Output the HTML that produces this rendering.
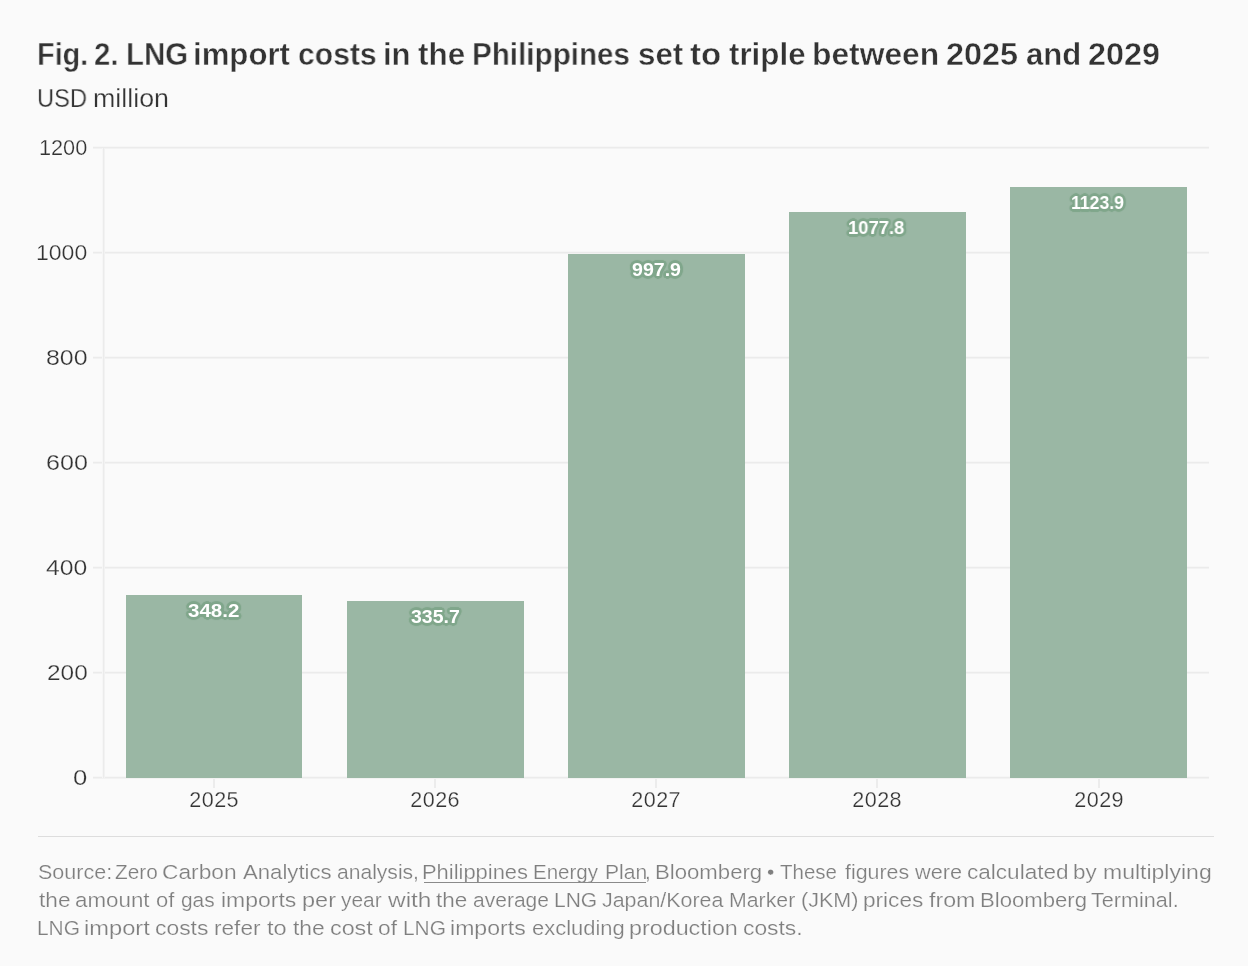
<!DOCTYPE html>
<html><head><meta charset="utf-8"><style>
html,body{margin:0;padding:0;background:#fafafa;}
body{width:1248px;height:966px;position:relative;overflow:hidden;font-family:"Liberation Sans",sans-serif;}
.t{position:absolute;white-space:nowrap;will-change:transform;}
.w{position:absolute;white-space:pre;transform-origin:0 0;will-change:transform;}
.ln{position:absolute;}
.thin{-webkit-text-stroke:0.25px #fafafa;}
.thinf{-webkit-text-stroke:0.2px #fafafa;}
.thinb{-webkit-text-stroke:0.4px #fafafa;}
</style></head><body>

<div class="w thinb" style="left:37.24px;top:38.76px;font-size:31px;line-height:31px;font-weight:bold;color:#333333;transform:scaleX(0.9294)">Fig.</div>
<div class="w thinb" style="left:94.45px;top:38.76px;font-size:31px;line-height:31px;font-weight:bold;color:#333333;transform:scaleX(0.9495)">2.</div>
<div class="w thinb" style="left:125.50px;top:38.76px;font-size:31px;line-height:31px;font-weight:bold;color:#333333;transform:scaleX(0.9496)">LNG</div>
<div class="w thinb" style="left:193.14px;top:38.76px;font-size:31px;line-height:31px;font-weight:bold;color:#333333;transform:scaleX(1.0048)">import</div>
<div class="w thinb" style="left:297.89px;top:38.76px;font-size:31px;line-height:31px;font-weight:bold;color:#333333;transform:scaleX(0.9707)">costs</div>
<div class="w thinb" style="left:383.47px;top:38.76px;font-size:31px;line-height:31px;font-weight:bold;color:#333333;transform:scaleX(0.9915)">in</div>
<div class="w thinb" style="left:418.09px;top:38.76px;font-size:31px;line-height:31px;font-weight:bold;color:#333333;transform:scaleX(1.0156)">the</div>
<div class="w thinb" style="left:472.39px;top:38.76px;font-size:31px;line-height:31px;font-weight:bold;color:#333333;transform:scaleX(0.9556)">Philippines</div>
<div class="w thinb" style="left:637.74px;top:38.76px;font-size:31px;line-height:31px;font-weight:bold;color:#333333;transform:scaleX(1.0104)">set</div>
<div class="w thinb" style="left:690.17px;top:38.76px;font-size:31px;line-height:31px;font-weight:bold;color:#333333;transform:scaleX(1.0655)">to</div>
<div class="w thinb" style="left:728.59px;top:38.76px;font-size:31px;line-height:31px;font-weight:bold;color:#333333;transform:scaleX(1.0101)">triple</div>
<div class="w thinb" style="left:812.15px;top:38.76px;font-size:31px;line-height:31px;font-weight:bold;color:#333333;transform:scaleX(1.0254)">between</div>
<div class="w thinb" style="left:946.06px;top:38.76px;font-size:31px;line-height:31px;font-weight:bold;color:#333333;transform:scaleX(1.0448)">2025</div>
<div class="w thinb" style="left:1025.90px;top:38.76px;font-size:31px;line-height:31px;font-weight:bold;color:#333333;transform:scaleX(1.0019)">and</div>
<div class="w thinb" style="left:1087.66px;top:38.76px;font-size:31px;line-height:31px;font-weight:bold;color:#333333;transform:scaleX(1.0442)">2029</div>
<div class="w thin" style="left:37.11px;top:85.84px;font-size:25px;line-height:25px;color:#333333;transform:scaleX(0.9475)">USD</div>
<div class="w thin" style="left:93.02px;top:85.84px;font-size:25px;line-height:25px;color:#333333;transform:scaleX(1.0726)">million</div>
<div class="ln" style="left:93px;width:1116.2px;top:777.00px;height:1px;background:#ebebeb;box-shadow:0 1px 0 #f2f2f2,0 -1px 0 #f6f6f6"></div>
<div class="w thin" style="left:73.31px;top:766.62px;font-size:21.6px;line-height:21.6px;color:#333333;transform:scaleX(1.1905)">0</div>
<div class="ln" style="left:93px;width:1116.2px;top:672.00px;height:1px;background:#ebebeb;box-shadow:0 1px 0 #f2f2f2,0 -1px 0 #f6f6f6"></div>
<div class="w thin" style="left:46.77px;top:661.62px;font-size:21.6px;line-height:21.6px;color:#333333;transform:scaleX(1.1299)">200</div>
<div class="ln" style="left:93px;width:1116.2px;top:567.00px;height:1px;background:#ebebeb;box-shadow:0 1px 0 #f2f2f2,0 -1px 0 #f6f6f6"></div>
<div class="w thin" style="left:46.23px;top:556.62px;font-size:21.6px;line-height:21.6px;color:#333333;transform:scaleX(1.1453)">400</div>
<div class="ln" style="left:93px;width:1116.2px;top:462.00px;height:1px;background:#ebebeb;box-shadow:0 1px 0 #f2f2f2,0 -1px 0 #f6f6f6"></div>
<div class="w thin" style="left:45.64px;top:451.62px;font-size:21.6px;line-height:21.6px;color:#333333;transform:scaleX(1.1620)">600</div>
<div class="ln" style="left:93px;width:1116.2px;top:357.00px;height:1px;background:#ebebeb;box-shadow:0 1px 0 #f2f2f2,0 -1px 0 #f6f6f6"></div>
<div class="w thin" style="left:45.95px;top:346.62px;font-size:21.6px;line-height:21.6px;color:#333333;transform:scaleX(1.1533)">800</div>
<div class="ln" style="left:93px;width:1116.2px;top:252.00px;height:1px;background:#ebebeb;box-shadow:0 1px 0 #f2f2f2,0 -1px 0 #f6f6f6"></div>
<div class="w thin" style="left:36.23px;top:241.62px;font-size:21.6px;line-height:21.6px;color:#333333;transform:scaleX(1.0659)">1000</div>
<div class="ln" style="left:93px;width:1116.2px;top:147.00px;height:1px;background:#ebebeb;box-shadow:0 1px 0 #f2f2f2,0 -1px 0 #f6f6f6"></div>
<div class="w thin" style="left:39.14px;top:136.62px;font-size:21.6px;line-height:21.6px;color:#333333;transform:scaleX(1.0044)">1200</div>
<div class="ln" style="left:102.90px;width:1px;top:147.50px;height:630.00px;background:#ebebeb;box-shadow:1px 0 0 #f2f2f2,-1px 0 0 #f6f6f6"></div>
<div class="ln" style="left:125.52px;width:176.93px;top:594.69px;height:183.31px;background:#9ab7a4"></div>
<div class="ln" style="left:212.98px;width:2px;top:779px;height:8.5px;background:#ececec"></div>
<div class="t thin" style="left:113.98px;width:200px;text-align:center;top:788.52px;font-size:21.6px;line-height:21.6px;color:#333333;letter-spacing:0.41px;text-indent:0.41px">2025</div>
<div class="w" style="left:188.26px;top:600.71px;font-size:19px;line-height:19px;font-weight:bold;color:#ffffff;transform:scaleX(1.0811);text-shadow:2.60px 0.00px 0.8px #80a78c,2.40px 0.99px 0.8px #80a78c,1.84px 1.84px 0.8px #80a78c,0.99px 2.40px 0.8px #80a78c,0.00px 2.60px 0.8px #80a78c,-0.99px 2.40px 0.8px #80a78c,-1.84px 1.84px 0.8px #80a78c,-2.40px 0.99px 0.8px #80a78c,-2.60px 0.00px 0.8px #80a78c,-2.40px -0.99px 0.8px #80a78c,-1.84px -1.84px 0.8px #80a78c,-0.99px -2.40px 0.8px #80a78c,-0.00px -2.60px 0.8px #80a78c,0.99px -2.40px 0.8px #80a78c,1.84px -1.84px 0.8px #80a78c,2.40px -0.99px 0.8px #80a78c,1px 1px 0 #80a78c,-1px -1px 0 #80a78c,1px -1px 0 #80a78c,-1px 1px 0 #80a78c">348.2</div>
<div class="ln" style="left:346.68px;width:176.93px;top:601.26px;height:176.74px;background:#9ab7a4"></div>
<div class="ln" style="left:434.14px;width:2px;top:779px;height:8.5px;background:#ececec"></div>
<div class="t thin" style="left:335.14px;width:200px;text-align:center;top:788.52px;font-size:21.6px;line-height:21.6px;color:#333333;letter-spacing:0.41px;text-indent:0.41px">2026</div>
<div class="w" style="left:410.99px;top:607.27px;font-size:19px;line-height:19px;font-weight:bold;color:#ffffff;transform:scaleX(1.0249);text-shadow:2.60px 0.00px 0.8px #80a78c,2.40px 0.99px 0.8px #80a78c,1.84px 1.84px 0.8px #80a78c,0.99px 2.40px 0.8px #80a78c,0.00px 2.60px 0.8px #80a78c,-0.99px 2.40px 0.8px #80a78c,-1.84px 1.84px 0.8px #80a78c,-2.40px 0.99px 0.8px #80a78c,-2.60px 0.00px 0.8px #80a78c,-2.40px -0.99px 0.8px #80a78c,-1.84px -1.84px 0.8px #80a78c,-0.99px -2.40px 0.8px #80a78c,-0.00px -2.60px 0.8px #80a78c,0.99px -2.40px 0.8px #80a78c,1.84px -1.84px 0.8px #80a78c,2.40px -0.99px 0.8px #80a78c,1px 1px 0 #80a78c,-1px -1px 0 #80a78c,1px -1px 0 #80a78c,-1px 1px 0 #80a78c">335.7</div>
<div class="ln" style="left:567.84px;width:176.93px;top:253.60px;height:524.40px;background:#9ab7a4"></div>
<div class="ln" style="left:655.30px;width:2px;top:779px;height:8.5px;background:#ececec"></div>
<div class="t thin" style="left:556.30px;width:200px;text-align:center;top:788.52px;font-size:21.6px;line-height:21.6px;color:#333333;letter-spacing:0.41px;text-indent:0.41px">2027</div>
<div class="w" style="left:631.73px;top:259.62px;font-size:19px;line-height:19px;font-weight:bold;color:#ffffff;transform:scaleX(1.0304);text-shadow:2.60px 0.00px 0.8px #80a78c,2.40px 0.99px 0.8px #80a78c,1.84px 1.84px 0.8px #80a78c,0.99px 2.40px 0.8px #80a78c,0.00px 2.60px 0.8px #80a78c,-0.99px 2.40px 0.8px #80a78c,-1.84px 1.84px 0.8px #80a78c,-2.40px 0.99px 0.8px #80a78c,-2.60px 0.00px 0.8px #80a78c,-2.40px -0.99px 0.8px #80a78c,-1.84px -1.84px 0.8px #80a78c,-0.99px -2.40px 0.8px #80a78c,-0.00px -2.60px 0.8px #80a78c,0.99px -2.40px 0.8px #80a78c,1.84px -1.84px 0.8px #80a78c,2.40px -0.99px 0.8px #80a78c,1px 1px 0 #80a78c,-1px -1px 0 #80a78c,1px -1px 0 #80a78c,-1px 1px 0 #80a78c">997.9</div>
<div class="ln" style="left:789.00px;width:176.93px;top:211.65px;height:566.35px;background:#9ab7a4"></div>
<div class="ln" style="left:876.46px;width:2px;top:779px;height:8.5px;background:#ececec"></div>
<div class="t thin" style="left:777.46px;width:200px;text-align:center;top:788.52px;font-size:21.6px;line-height:21.6px;color:#333333;letter-spacing:0.41px;text-indent:0.41px">2028</div>
<div class="w" style="left:848.39px;top:217.67px;font-size:19px;line-height:19px;font-weight:bold;color:#ffffff;transform:scaleX(0.9689);text-shadow:2.60px 0.00px 0.8px #80a78c,2.40px 0.99px 0.8px #80a78c,1.84px 1.84px 0.8px #80a78c,0.99px 2.40px 0.8px #80a78c,0.00px 2.60px 0.8px #80a78c,-0.99px 2.40px 0.8px #80a78c,-1.84px 1.84px 0.8px #80a78c,-2.40px 0.99px 0.8px #80a78c,-2.60px 0.00px 0.8px #80a78c,-2.40px -0.99px 0.8px #80a78c,-1.84px -1.84px 0.8px #80a78c,-0.99px -2.40px 0.8px #80a78c,-0.00px -2.60px 0.8px #80a78c,0.99px -2.40px 0.8px #80a78c,1.84px -1.84px 0.8px #80a78c,2.40px -0.99px 0.8px #80a78c,1px 1px 0 #80a78c,-1px -1px 0 #80a78c,1px -1px 0 #80a78c,-1px 1px 0 #80a78c">1077.8</div>
<div class="ln" style="left:1010.16px;width:176.93px;top:187.45px;height:590.55px;background:#9ab7a4"></div>
<div class="ln" style="left:1097.62px;width:2px;top:779px;height:8.5px;background:#ececec"></div>
<div class="t thin" style="left:998.62px;width:200px;text-align:center;top:788.52px;font-size:21.6px;line-height:21.6px;color:#333333;letter-spacing:0.41px;text-indent:0.41px">2029</div>
<div class="w" style="left:1071.34px;top:193.47px;font-size:19px;line-height:19px;font-weight:bold;color:#ffffff;transform:scaleX(0.9273);text-shadow:2.60px 0.00px 0.8px #80a78c,2.40px 0.99px 0.8px #80a78c,1.84px 1.84px 0.8px #80a78c,0.99px 2.40px 0.8px #80a78c,0.00px 2.60px 0.8px #80a78c,-0.99px 2.40px 0.8px #80a78c,-1.84px 1.84px 0.8px #80a78c,-2.40px 0.99px 0.8px #80a78c,-2.60px 0.00px 0.8px #80a78c,-2.40px -0.99px 0.8px #80a78c,-1.84px -1.84px 0.8px #80a78c,-0.99px -2.40px 0.8px #80a78c,-0.00px -2.60px 0.8px #80a78c,0.99px -2.40px 0.8px #80a78c,1.84px -1.84px 0.8px #80a78c,2.40px -0.99px 0.8px #80a78c,1px 1px 0 #80a78c,-1px -1px 0 #80a78c,1px -1px 0 #80a78c,-1px 1px 0 #80a78c">1123.9</div>
<div class="ln" style="left:38px;width:1176px;top:836px;height:1px;background:#dddddd"></div>
<div class="w thinf" style="left:37.95px;top:861.65px;font-size:20.5px;line-height:20.5px;color:#7f7f7f;transform:scaleX(1.0494)">Source:</div>
<div class="w thinf" style="left:115.34px;top:861.65px;font-size:20.5px;line-height:20.5px;color:#7f7f7f;transform:scaleX(1.0148)">Zero</div>
<div class="w thinf" style="left:162.09px;top:861.65px;font-size:20.5px;line-height:20.5px;color:#7f7f7f;transform:scaleX(1.1092)">Carbon</div>
<div class="w thinf" style="left:243.00px;top:861.65px;font-size:20.5px;line-height:20.5px;color:#7f7f7f;transform:scaleX(1.0806)">Analytics</div>
<div class="w thinf" style="left:337.17px;top:861.65px;font-size:20.5px;line-height:20.5px;color:#7f7f7f;transform:scaleX(1.0273)">analysis,</div>
<div class="w thinf" style="left:422.13px;top:861.65px;font-size:20.5px;line-height:20.5px;color:#7f7f7f;transform:scaleX(1.0694)">Philippines</div>
<div class="w thinf" style="left:533.45px;top:861.65px;font-size:20.5px;line-height:20.5px;color:#7f7f7f;transform:scaleX(1.0016)">Energy</div>
<div class="w thinf" style="left:604.50px;top:861.65px;font-size:20.5px;line-height:20.5px;color:#7f7f7f;transform:scaleX(1.0289)">Plan</div>
<div class="w thinf" style="left:644.62px;top:861.65px;font-size:20.5px;line-height:20.5px;color:#7f7f7f;transform:scaleX(1.0000)">,</div>
<div class="w thinf" style="left:655.11px;top:861.65px;font-size:20.5px;line-height:20.5px;color:#7f7f7f;transform:scaleX(1.0812)">Bloomberg</div>
<div class="w thinf" style="left:766.84px;top:862.42px;font-size:20.5px;line-height:20.5px;color:#7f7f7f;transform:scale(1.0182)">•</div>
<div class="w thinf" style="left:780.30px;top:861.65px;font-size:20.5px;line-height:20.5px;color:#7f7f7f;transform:scaleX(1.0000)">These</div>
<div class="w thinf" style="left:844.74px;top:861.65px;font-size:20.5px;line-height:20.5px;color:#7f7f7f;transform:scaleX(1.0430)">figures</div>
<div class="w thinf" style="left:915.10px;top:861.65px;font-size:20.5px;line-height:20.5px;color:#7f7f7f;transform:scaleX(1.0598)">were</div>
<div class="w thinf" style="left:967.10px;top:861.65px;font-size:20.5px;line-height:20.5px;color:#7f7f7f;transform:scaleX(1.1000)">calculated</div>
<div class="w thinf" style="left:1073.14px;top:861.65px;font-size:20.5px;line-height:20.5px;color:#7f7f7f;transform:scaleX(1.0914)">by</div>
<div class="w thinf" style="left:1102.52px;top:861.65px;font-size:20.5px;line-height:20.5px;color:#7f7f7f;transform:scaleX(1.1223)">multiplying</div>
<div class="w thinf" style="left:38.72px;top:889.65px;font-size:20.5px;line-height:20.5px;color:#7f7f7f;transform:scaleX(1.1046)">the</div>
<div class="w thinf" style="left:75.41px;top:889.65px;font-size:20.5px;line-height:20.5px;color:#7f7f7f;transform:scaleX(1.0900)">amount</div>
<div class="w thinf" style="left:156.40px;top:889.65px;font-size:20.5px;line-height:20.5px;color:#7f7f7f;transform:scaleX(1.0708)">of</div>
<div class="w thinf" style="left:181.04px;top:889.65px;font-size:20.5px;line-height:20.5px;color:#7f7f7f;transform:scaleX(1.0190)">gas</div>
<div class="w thinf" style="left:220.60px;top:889.65px;font-size:20.5px;line-height:20.5px;color:#7f7f7f;transform:scaleX(1.1203)">imports</div>
<div class="w thinf" style="left:301.67px;top:889.65px;font-size:20.5px;line-height:20.5px;color:#7f7f7f;transform:scaleX(1.1464)">per</div>
<div class="w thinf" style="left:341.34px;top:889.65px;font-size:20.5px;line-height:20.5px;color:#7f7f7f;transform:scaleX(1.0217)">year</div>
<div class="w thinf" style="left:388.30px;top:889.65px;font-size:20.5px;line-height:20.5px;color:#7f7f7f;transform:scaleX(1.1915)">with</div>
<div class="w thinf" style="left:435.93px;top:889.65px;font-size:20.5px;line-height:20.5px;color:#7f7f7f;transform:scaleX(1.0972)">the</div>
<div class="w thinf" style="left:473.07px;top:889.65px;font-size:20.5px;line-height:20.5px;color:#7f7f7f;transform:scaleX(1.0256)">average</div>
<div class="w thinf" style="left:553.81px;top:889.65px;font-size:20.5px;line-height:20.5px;color:#7f7f7f;transform:scaleX(1.0245)">LNG</div>
<div class="w thinf" style="left:601.84px;top:889.65px;font-size:20.5px;line-height:20.5px;color:#7f7f7f;transform:scaleX(1.0440)">Japan/Korea</div>
<div class="w thinf" style="left:729.38px;top:889.65px;font-size:20.5px;line-height:20.5px;color:#7f7f7f;transform:scaleX(1.0381)">Marker</div>
<div class="w thinf" style="left:801.19px;top:889.65px;font-size:20.5px;line-height:20.5px;color:#7f7f7f;transform:scaleX(1.0500)">(JKM)</div>
<div class="w thinf" style="left:863.32px;top:889.65px;font-size:20.5px;line-height:20.5px;color:#7f7f7f;transform:scaleX(1.1014)">prices</div>
<div class="w thinf" style="left:929.32px;top:889.65px;font-size:20.5px;line-height:20.5px;color:#7f7f7f;transform:scaleX(1.1316)">from</div>
<div class="w thinf" style="left:979.71px;top:889.65px;font-size:20.5px;line-height:20.5px;color:#7f7f7f;transform:scaleX(1.0792)">Bloomberg</div>
<div class="w thinf" style="left:1091.27px;top:889.65px;font-size:20.5px;line-height:20.5px;color:#7f7f7f;transform:scaleX(1.0539)">Terminal.</div>
<div class="w thinf" style="left:37.22px;top:917.75px;font-size:20.5px;line-height:20.5px;color:#7f7f7f;transform:scaleX(1.0194)">LNG</div>
<div class="w thinf" style="left:84.26px;top:917.75px;font-size:20.5px;line-height:20.5px;color:#7f7f7f;transform:scaleX(1.1550)">import</div>
<div class="w thinf" style="left:155.48px;top:917.75px;font-size:20.5px;line-height:20.5px;color:#7f7f7f;transform:scaleX(1.1152)">costs</div>
<div class="w thinf" style="left:213.92px;top:917.75px;font-size:20.5px;line-height:20.5px;color:#7f7f7f;transform:scaleX(1.1037)">refer</div>
<div class="w thinf" style="left:266.71px;top:917.75px;font-size:20.5px;line-height:20.5px;color:#7f7f7f;transform:scaleX(1.1500)">to</div>
<div class="w thinf" style="left:292.82px;top:917.75px;font-size:20.5px;line-height:20.5px;color:#7f7f7f;transform:scaleX(1.1156)">the</div>
<div class="w thinf" style="left:329.56px;top:917.75px;font-size:20.5px;line-height:20.5px;color:#7f7f7f;transform:scaleX(1.1370)">cost</div>
<div class="w thinf" style="left:378.37px;top:917.75px;font-size:20.5px;line-height:20.5px;color:#7f7f7f;transform:scaleX(1.1077)">of</div>
<div class="w thinf" style="left:403.02px;top:917.75px;font-size:20.5px;line-height:20.5px;color:#7f7f7f;transform:scaleX(1.0194)">LNG</div>
<div class="w thinf" style="left:450.19px;top:917.75px;font-size:20.5px;line-height:20.5px;color:#7f7f7f;transform:scaleX(1.1264)">imports</div>
<div class="w thinf" style="left:532.03px;top:917.75px;font-size:20.5px;line-height:20.5px;color:#7f7f7f;transform:scaleX(1.0706)">excluding</div>
<div class="w thinf" style="left:629.18px;top:917.75px;font-size:20.5px;line-height:20.5px;color:#7f7f7f;transform:scaleX(1.1367)">production</div>
<div class="w thinf" style="left:742.69px;top:917.75px;font-size:20.5px;line-height:20.5px;color:#7f7f7f;transform:scaleX(1.1133)">costs.</div>
<div class="ln" style="left:424px;width:221.5px;top:882px;height:1px;background:#8a8a8a"></div>
</body></html>
